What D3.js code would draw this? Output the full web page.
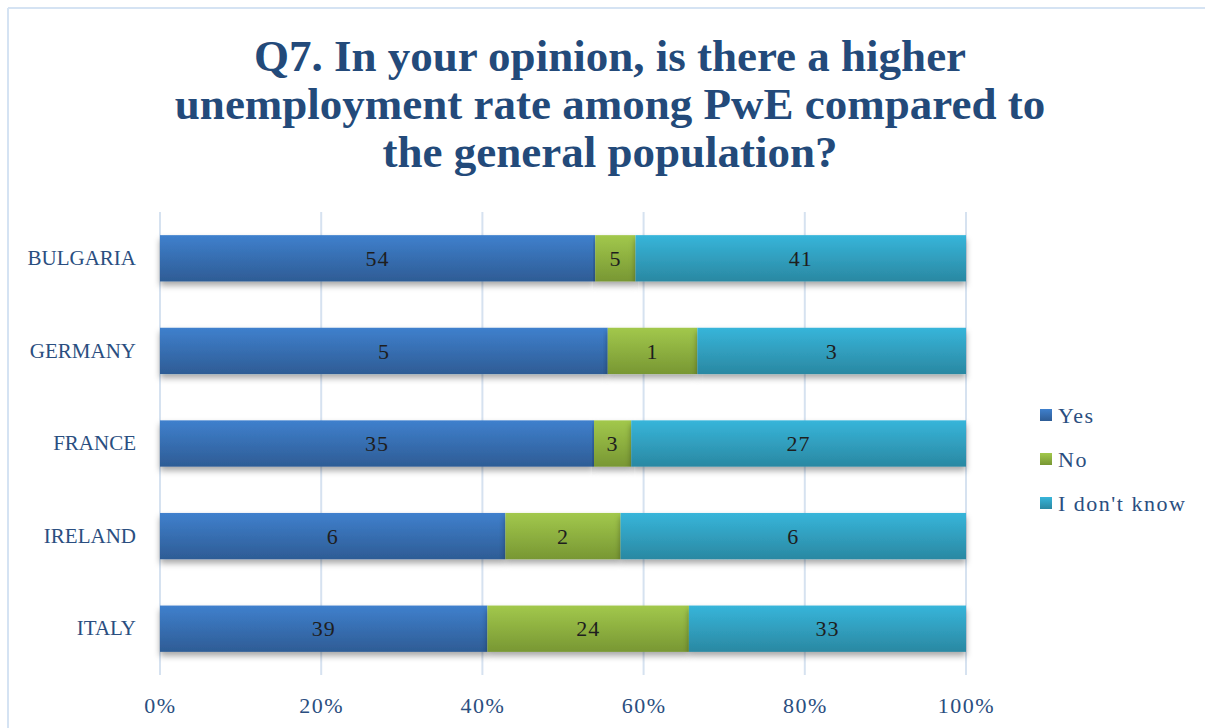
<!DOCTYPE html>
<html>
<head>
<meta charset="utf-8">
<script src="https://cdn.jsdelivr.net/npm/d3@7"></script>
<style>
  html, body { margin: 0; padding: 0; background: #ffffff; }
  svg { display: block; }
</style>
</head>
<body>
<svg id="chart" width="1205" height="728"></svg>
<script>
// Survey answers per country (respondent counts)
const countries = ["BULGARIA", "GERMANY", "FRANCE", "IRELAND", "ITALY"];
const yesValues = [54, 5, 35, 6, 39];
const noValues = [5, 1, 3, 2, 24];
const dontKnowValues = [41, 3, 27, 6, 33];
const seriesNames = ["Yes", "No", "I don't know"];
const tickValues = [0, 0.2, 0.4, 0.6, 0.8, 1];
const titleLines = [
  "Q7. In your opinion, is there a higher",
  "unemployment rate among PwE compared to",
  "the general population?"
];

const seriesKeys = ["yes", "no", "dk"];
const colorsTop = { yes: "#3F80CD", no: "#A2C84C", dk: "#37B5DA" };
const colorsBottom = { yes: "#2E5C95", no: "#789733", dk: "#2A88A2" };

const rows = countries.map((c, i) => ({
  country: c, yes: yesValues[i], no: noValues[i], dk: dontKnowValues[i]
}));

const svg = d3.select("#chart");
const serif = "'Liberation Serif', 'DejaVu Serif', serif";
const textBlue = "#2A4E80";

// outer frame (top and left edges)
svg.append("line").attr("x1", 8).attr("y1", 8).attr("x2", 1205).attr("y2", 8)
  .attr("stroke", "#D5E3F3").attr("stroke-width", 2);
svg.append("line").attr("x1", 8).attr("y1", 8).attr("x2", 8).attr("y2", 728)
  .attr("stroke", "#D5E3F3").attr("stroke-width", 2);

// title
svg.append("g").selectAll("text").data(titleLines).join("text")
  .attr("x", 610).attr("y", (d, i) => 71 + i * 48)
  .attr("text-anchor", "middle")
  .attr("font-family", serif).attr("font-weight", "bold").attr("font-size", 45)
  .attr("fill", "#234A7A")
  .text(d => d);

const defs = svg.append("defs");
seriesKeys.forEach(k => {
  const g = defs.append("linearGradient").attr("id", "grad-" + k)
    .attr("x1", 0).attr("y1", 0).attr("x2", 0).attr("y2", 1);
  g.append("stop").attr("offset", "0%").attr("stop-color", colorsTop[k]);
  g.append("stop").attr("offset", "100%").attr("stop-color", colorsBottom[k]);
});
const shadow = defs.append("filter").attr("id", "shadow")
  .attr("x", "-5%").attr("y", "-20%").attr("width", "110%").attr("height", "160%");
shadow.append("feDropShadow").attr("dx", 0).attr("dy", 4).attr("stdDeviation", 3)
  .attr("flood-color", "#000").attr("flood-opacity", 0.35);

const plot = { left: 160, right: 966, top: 212, bottom: 675 };
const x = d3.scaleLinear().domain([0, 1]).range([plot.left, plot.right]);
const y = d3.scaleBand().domain(countries).range([plot.top, plot.bottom]).paddingInner(0.5).paddingOuter(0.25);

// vertical gridlines
svg.append("g").selectAll("line").data(tickValues).join("line")
  .attr("x1", d => x(d)).attr("x2", d => x(d))
  .attr("y1", plot.top).attr("y2", plot.bottom)
  .attr("stroke", "#D6E2F0").attr("stroke-width", 2);

// x-axis tick labels
const xAxis = d3.axisBottom(x).tickValues(tickValues).tickFormat(d3.format(".0%")).tickSize(0).tickPadding(0);
const xg = svg.append("g").attr("transform", `translate(0,${plot.bottom + 38})`).call(xAxis);
xg.select(".domain").remove();
xg.selectAll("text").attr("font-family", serif).attr("font-size", 22)
  .attr("letter-spacing", 1.5).attr("fill", textBlue).attr("dy", "0");

// category labels
const yAxis = d3.axisLeft(y).tickSize(0).tickPadding(0);
const yg = svg.append("g").attr("transform", `translate(${plot.left - 24},0)`).call(yAxis);
yg.select(".domain").remove();
yg.selectAll("text").attr("font-family", serif).attr("font-size", 21).attr("fill", textBlue);

// 100% stacked bars
const stack = d3.stack().keys(seriesKeys).offset(d3.stackOffsetExpand);
const stacked = stack(rows);

const barG = svg.append("g");
stacked.forEach(layer => {
  const key = layer.key;
  barG.append("g").selectAll("rect").data(layer).join("rect")
    .attr("x", d => x(d[0]))
    .attr("y", d => y(d.data.country))
    .attr("width", d => x(d[1]) - x(d[0]))
    .attr("height", y.bandwidth())
    .attr("fill", `url(#grad-${key})`)
    .attr("filter", "url(#shadow)");
});
// value labels
stacked.forEach(layer => {
  const key = layer.key;
  barG.append("g").selectAll("text").data(layer).join("text")
    .attr("x", d => (x(d[0]) + x(d[1])) / 2)
    .attr("y", d => y(d.data.country) + y.bandwidth() / 2)
    .attr("dy", "0.35em")
    .attr("text-anchor", "middle")
    .attr("font-family", serif).attr("font-size", 22).attr("letter-spacing", 1)
    .attr("fill", "#1E1E1E")
    .text(d => d.data[key]);
});

// legend
const legend = svg.append("g");
seriesKeys.forEach((k, i) => {
  const ly = 415 + i * 44;
  legend.append("rect").attr("x", 1040).attr("y", ly - 6).attr("width", 12).attr("height", 12)
    .attr("fill", `url(#grad-${k})`);
  legend.append("text").attr("x", 1058).attr("y", ly).attr("dy", "0.35em")
    .attr("font-family", serif).attr("font-size", 22).attr("letter-spacing", 1.5).attr("fill", textBlue)
    .text(seriesNames[i]);
});
</script>
</body>
</html>
